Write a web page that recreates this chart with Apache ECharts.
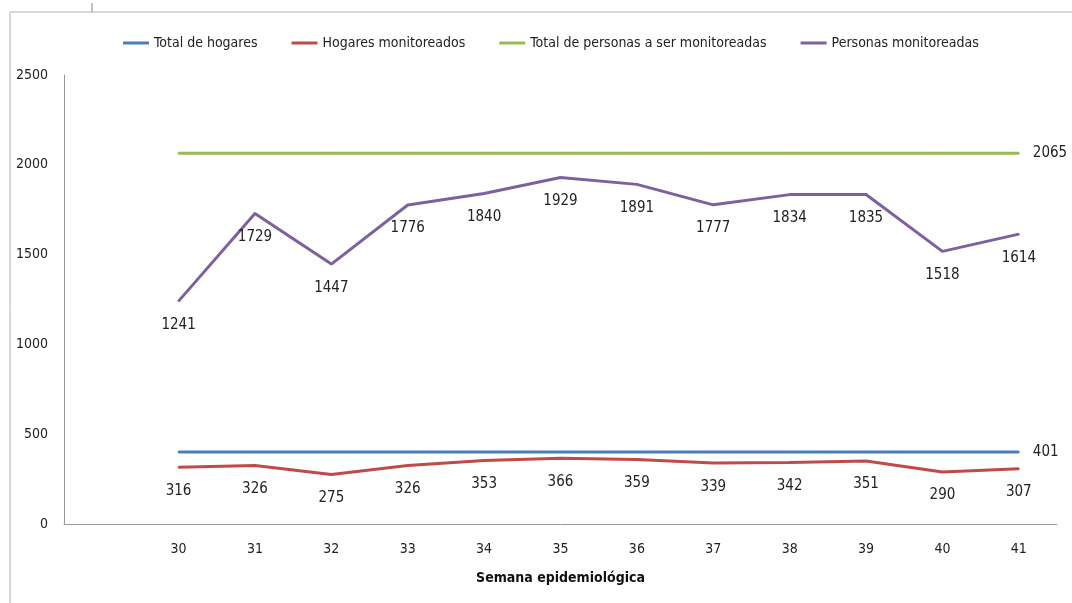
<!DOCTYPE html>
<html>
<head>
<meta charset="utf-8">
<script src="https://cdn.jsdelivr.net/npm/echarts@6/dist/echarts.min.js"></script>
<style>
html, body { margin: 0; padding: 0; background: #fff; }
#chart { width: 1072px; height: 603px; }
</style>
</head>
<body>
<div id="chart"></div>
<script>
var weeks = ['30','31','32','33','34','35','36','37','38','39','40','41'];
var totalHogares = [401,401,401,401,401,401,401,401,401,401,401,401];
var hogaresMon = [316,326,275,326,353,366,359,339,342,351,290,307];
var totalPersonas = [2065,2065,2065,2065,2065,2065,2065,2065,2065,2065,2065,2065];
var personasMon = [1241,1729,1447,1776,1840,1929,1891,1777,1834,1835,1518,1614];
var yTicks = [0, 500, 1000, 1500, 2000, 2500];

var font = '"DejaVu Sans Condensed", "Liberation Sans Narrow", "Open Sans", sans-serif';

// leading empty slot like the original chart
var cats = [''].concat(weeks);
function pad(arr) { return [null].concat(arr); }

// only last point labelled, on the right
function lastLabel(arr) {
    var out = pad(arr);
    var i = out.length - 1;
    out[i] = { value: out[i], label: { show: true, position: 'right', distance: 13 } };
    return out;
}

function plain(p) { return String(p.value); }

function lineSeries(name, data, color, label) {
    return {
        name: name, type: 'line', data: data,
        symbol: 'circle', symbolSize: 2, showSymbol: true,
        lineStyle: { color: color, width: 3 },
        itemStyle: { color: color },
        label: label
    };
}

window.onload = function(){
    var chart = echarts.init(document.getElementById('chart'));
    var below = { show: true, position: 'bottom', distance: 15, fontSize: 15, color: '#222', formatter: plain };
    var side = { fontSize: 15, color: '#222', formatter: plain };
    var option = {
        animation: false,
        textStyle: { fontFamily: font },
        graphic: [
            { type: 'line', shape: { x1: 10, y1: 12, x2: 1072, y2: 12 }, style: { stroke: '#b0b0b0', lineWidth: 1 } },
            { type: 'line', shape: { x1: 10, y1: 12, x2: 10, y2: 603 }, style: { stroke: '#b0b0b0', lineWidth: 1 } },
            { type: 'line', shape: { x1: 92, y1: 3, x2: 92, y2: 12 }, style: { stroke: '#888', lineWidth: 1 } }
        ],
        legend: {
            top: 31,
            left: 118,
            icon: 'rect',
            itemWidth: 26,
            itemHeight: 3,
            itemGap: 34,
            textStyle: { fontFamily: font, fontSize: 14, color: '#222' },
            data: ['Total de hogares', 'Hogares monitoreados', 'Total de personas a ser monitoreadas', 'Personas monitoreadas']
        },
        grid: { left: 64, right: 15, top: 75, bottom: 79, containLabel: false },
        xAxis: {
            type: 'category',
            data: cats,
            boundaryGap: true,
            name: 'Semana epidemiológica',
            nameLocation: 'middle',
            nameGap: 47,
            nameTextStyle: { fontFamily: font, fontSize: 14, fontWeight: 'bold', color: '#111' },
            axisLine: { lineStyle: { color: '#999' } },
            axisTick: { show: false },
            axisLabel: { fontSize: 14, color: '#222', margin: 18, interval: 0 }
        },
        yAxis: {
            type: 'value',
            min: yTicks[0],
            max: yTicks[yTicks.length - 1],
            interval: 500,
            axisLine: { show: true, lineStyle: { color: '#999' } },
            axisTick: { show: false },
            splitLine: { show: false },
            axisLabel: { fontSize: 14, color: '#222', margin: 16, formatter: function(v){ return String(v); } }
        },
        series: [
            lineSeries('Total de hogares', lastLabel(totalHogares), '#4A7EBB', side),
            lineSeries('Hogares monitoreados', pad(hogaresMon), '#BE4B48', below),
            lineSeries('Total de personas a ser monitoreadas', lastLabel(totalPersonas), '#98B954', side),
            lineSeries('Personas monitoreadas', pad(personasMon), '#7D60A0', below)
        ]
    };
    chart.setOption(option);
};
</script>
</body>
</html>
